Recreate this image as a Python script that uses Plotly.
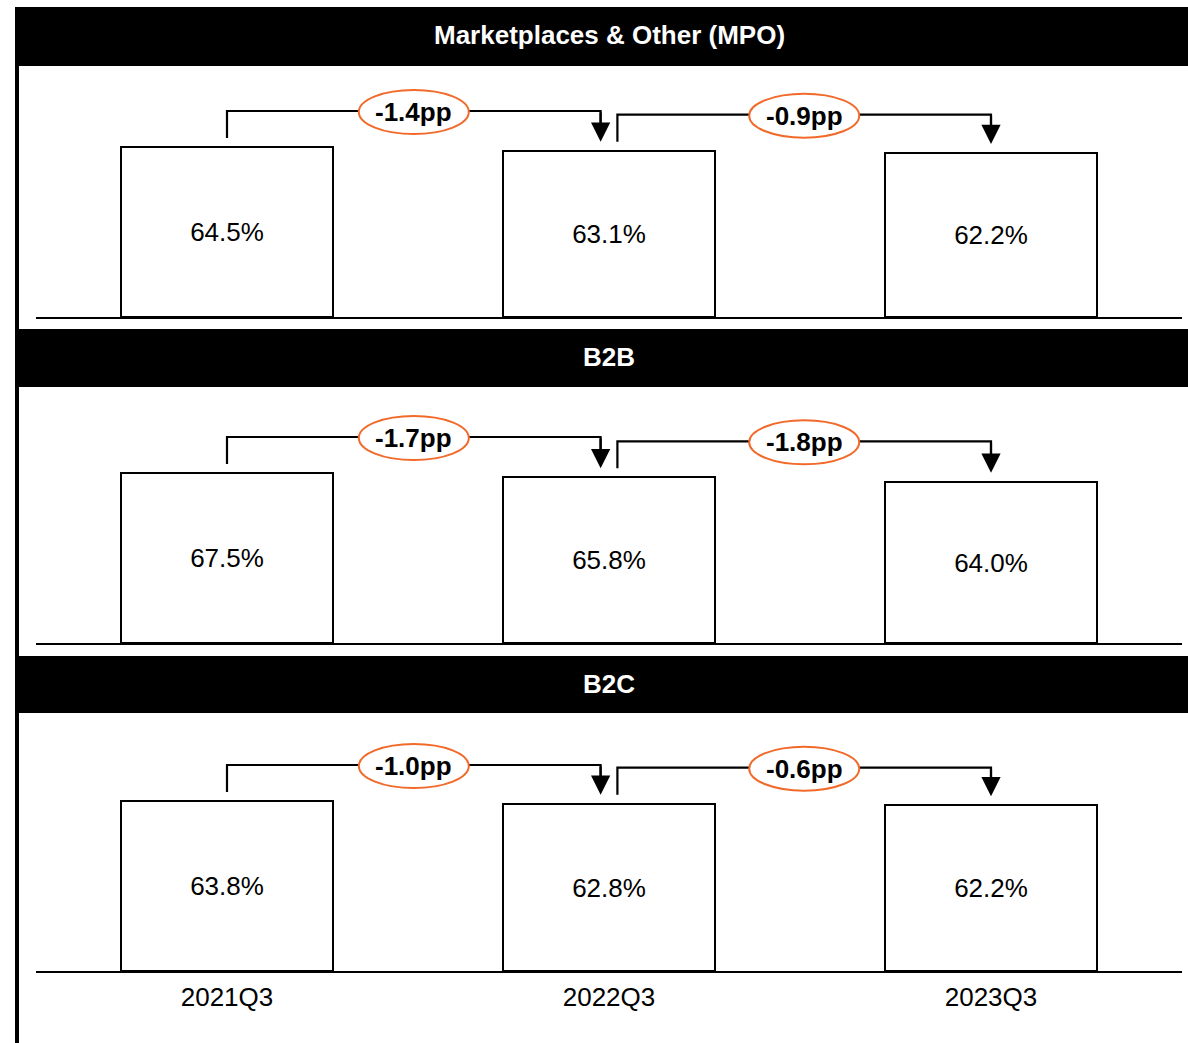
import plotly.graph_objects as go

# ---- data -------------------------------------------------------------
quarters = ["2021Q3", "2022Q3", "2023Q3"]
segments = ["Marketplaces & Other (MPO)", "B2B", "B2C"]
mpo_share = [64.5, 63.1, 62.2]
b2b_share = [67.5, 65.8, 64.0]
b2c_share = [63.8, 62.8, 62.2]
series = [mpo_share, b2b_share, b2c_share]

# ---- page geometry (pixels) ------------------------------------------
W, H = 1188, 1043
header_px = [(7, 66), (329, 387), (656, 713)]       # black title bands
plot_px = [(66, 317), (387, 643), (713, 971)]       # plot area top/bottom
x_left, x_right = 36, 1182
bar_px_target = 170                                   # tallest bar height
BRACKET_RISE = 36                                     # bracket above start bar
GAP = 9                                               # gap between bracket ends and bars
MID_OFF = 0.022                                       # split of the two brackets at the middle bar
ORANGE = "#F26A2A"
FONT = "Arial, Liberation Sans, sans-serif"
FS = 26


def pyp(p):
    return 1 - p / H


def pxp(p):
    return p / W


fig = go.Figure()
shapes = []
annotations = []
xs = list(range(len(quarters)))

for k, (vals, name) in enumerate(zip(series, segments)):
    sfx = "" if k == 0 else str(k + 1)
    top, bot = plot_px[k]
    plot_h = bot - top
    ymax = max(vals) * plot_h / bar_px_target
    s = ymax / plot_h  # data units per pixel

    fig.add_trace(go.Bar(
        x=xs, y=vals, width=0.555,
        marker=dict(color="white", line=dict(color="black", width=2)),
        text=[f"{v:.1f}%" for v in vals],
        textposition="inside", insidetextanchor="middle",
        textfont=dict(size=FS, color="black", family=FONT),
        xaxis="x" + sfx, yaxis="y" + sfx,
        showlegend=False, hoverinfo="skip", cliponaxis=False,
    ))

    fig.update_layout(**{
        "xaxis" + sfx: dict(
            domain=[pxp(x_left), pxp(x_right)], range=[-0.5, 2.5],
            anchor="y" + sfx, showgrid=False, zeroline=False,
            showline=True, linecolor="black", linewidth=2,
            tickvals=xs, ticktext=quarters, ticks="",
            showticklabels=(k == len(series) - 1),
            tickfont=dict(size=FS, color="black", family=FONT),
            ticklabelstandoff=2,
            fixedrange=True,
        ),
        "yaxis" + sfx: dict(
            domain=[pyp(bot), pyp(top)], range=[0, ymax],
            anchor="x" + sfx, visible=False, fixedrange=True,
        ),
    })

    # title band
    h0, h1 = header_px[k]
    shapes.append(dict(type="rect", xref="paper", yref="paper",
                       x0=pxp(15), x1=1, y0=pyp(h1), y1=pyp(h0),
                       fillcolor="black", line=dict(width=0), layer="above"))
    annotations.append(dict(xref="paper", yref="paper", x=pxp((x_left + x_right) / 2),
                            y=pyp((h0 + h1) / 2), yshift=1, text=f"<b>{name}</b>", showarrow=False,
                            font=dict(size=FS, color="white", family=FONT),
                            xanchor="center", yanchor="middle"))

    # change brackets between consecutive quarters
    for i in range(len(vals) - 1):
        x0 = xs[i] + (MID_OFF if i > 0 else 0)
        x1 = xs[i + 1] - (MID_OFF if i + 1 < len(vals) - 1 else 0)
        yb = vals[i] + BRACKET_RISE * s
        y_start = vals[i] + GAP * s
        y_tip = vals[i + 1] + GAP * s
        xr, yr = "x" + sfx, "y" + sfx
        shapes.append(dict(type="path", xref=xr, yref=yr,
                           path=f"M {x0},{y_start} L {x0},{yb} L {x1},{yb} L {x1},{y_tip + 14 * s}",
                           line=dict(color="black", width=2.2), layer="above"))
        annotations.append(dict(xref=xr, yref=yr, axref=xr, ayref=yr,
                                x=x1, y=y_tip, ax=x1, ay=yb, text="",
                                showarrow=True, arrowhead=2, arrowwidth=2.2,
                                arrowsize=1.75, arrowcolor="black", standoff=0))
        xm = (x0 + x1) / 2
        shapes.append(dict(type="circle", xref=xr, yref=yr,
                           xsizemode="pixel", ysizemode="pixel",
                           xanchor=xm, yanchor=yb,
                           x0=-55, x1=55, y0=-23, y1=21,
                           fillcolor="white", line=dict(color=ORANGE, width=2),
                           layer="above"))
        delta = round(vals[i + 1] - vals[i], 1)
        annotations.append(dict(xref=xr, yref=yr, x=xm, y=yb, yshift=-1,
                                text=f"<b>{delta:+.1f}pp</b>", showarrow=False,
                                font=dict(size=FS, color="black", family=FONT),
                                xanchor="center", yanchor="middle"))

# left frame rule
shapes.append(dict(type="line", xref="paper", yref="paper",
                   x0=pxp(17), x1=pxp(17), y0=0, y1=pyp(7),
                   line=dict(color="black", width=4), layer="above"))

fig.update_layout(
    width=W, height=H,
    margin=dict(l=0, r=0, t=0, b=0),
    paper_bgcolor="white", plot_bgcolor="white",
    shapes=shapes, annotations=annotations,
    bargap=0, showlegend=False,
    font=dict(family=FONT),
)

fig.write_html("out.html")
